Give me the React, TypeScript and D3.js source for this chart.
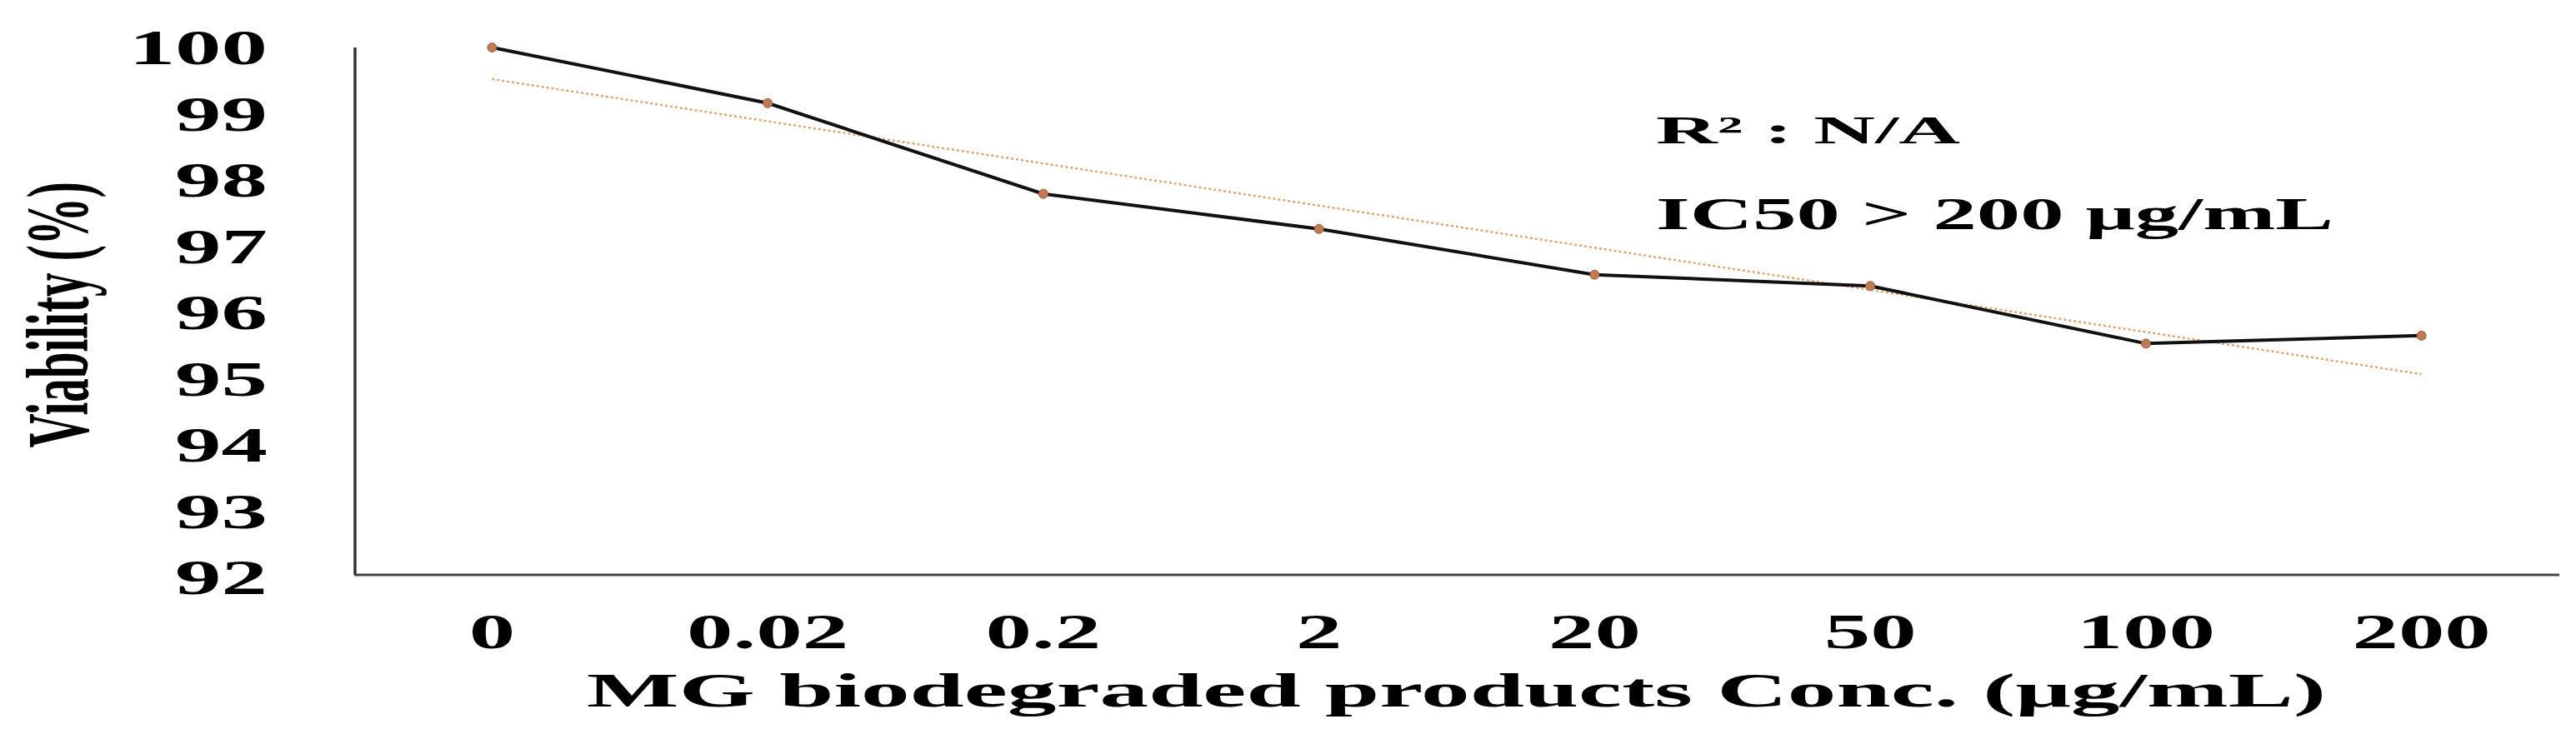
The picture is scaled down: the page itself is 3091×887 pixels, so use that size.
import React from 'react';
import * as d3 from 'd3';

// concentrations (µg/mL) and measured viability (%)
const categories = ['0', '0.02', '0.2', '2', '20', '50', '100', '200'];
const viability = [100, 99.16, 97.79, 97.26, 96.57, 96.4, 95.53, 95.65];
const yTicks = [92, 93, 94, 95, 96, 97, 98, 99, 100];

const W = 3091;
const H = 887;
const FONT = '"Liberation Serif", "Times New Roman", serif';
const STRETCH = 1.88; // the original figure is stretched sideways

const App = () => {
  const x = d3.scalePoint<string>()
    .domain(categories)
    .range([425, 3071])
    .padding(0.5);

  const y = d3.scaleLinear()
    .domain([92, 100])
    .range([693, 57]);

  const points = categories.map((c, i) => ({ c, i, v: viability[i] }));

  const line = d3.line<{ c: string; v: number }>()
    .x(d => x(d.c) ?? 0)
    .y(d => y(d.v));

  // linear trend (least squares over category index)
  const n = viability.length;
  const mx = d3.mean(points, d => d.i) ?? 0;
  const my = d3.mean(viability) ?? 0;
  const sxy = d3.sum(points, d => (d.i - mx) * (d.v - my));
  const sxx = d3.sum(points, d => (d.i - mx) ** 2);
  const slope = sxy / sxx;
  const intercept = my - slope * mx;
  const trend = [0, n - 1].map(i => ({ c: categories[i], v: intercept + slope * i }));

  return (
    <svg
      width={W}
      height={H}
      viewBox={`0 0 ${W} ${H}`}
      style={{ position: 'absolute', left: 0, top: 0, background: '#fff' }}
      fontFamily={FONT}
      fontWeight="bold"
    >
      {/* axes */}
      <line x1={426} x2={426} y1={57} y2={690} stroke="#333" strokeWidth={3.5} />
      <line x1={425} x2={3071} y1={690} y2={690} stroke="#444" strokeWidth={3} />

      {/* y tick labels */}
      {yTicks.map(t => (
        <text
          key={t}
          transform={`translate(321, ${y(t) + 20}) scale(${STRETCH}, 1)`}
          textAnchor="end"
          fontSize={59}
        >
          {t}
        </text>
      ))}

      {/* y axis title */}
      <text
        transform={`translate(105, 378) scale(1.85, 1) rotate(-90)`}
        textAnchor="middle"
        fontSize={57}
      >
        Viability (%)
      </text>

      {/* x tick labels */}
      {categories.map(c => (
        <text
          key={c}
          transform={`translate(${x(c)}, 778) scale(${STRETCH}, 1)`}
          textAnchor="middle"
          fontSize={59}
        >
          {c}
        </text>
      ))}

      {/* x axis title */}
      <text x={704} y={848} fontSize={58} textLength={2087} lengthAdjust="spacingAndGlyphs">
        MG biodegraded products Conc. (μg/mL)
      </text>

      {/* trend line */}
      <path
        d={line(trend) ?? ''}
        fill="none"
        stroke="#d9a877"
        strokeWidth={2.5}
        strokeDasharray="3,3"
      />

      {/* data line */}
      <path d={line(points) ?? ''} fill="none" stroke="#111" strokeWidth={4} />
      {points.map(d => (
        <circle
          key={d.c}
          cx={x(d.c)}
          cy={y(d.v)}
          r={5.5}
          fill="#c07a55"
          stroke="#a0603f"
          strokeWidth={1}
        />
      ))}

      {/* annotations */}
      <text x={1987} y={172} fontSize={46} textLength={365} lengthAdjust="spacingAndGlyphs">
        R² : N/A
      </text>
      <text x={1987} y={275} fontSize={54} textLength={813} lengthAdjust="spacingAndGlyphs">
        IC50 &gt; 200 μg/mL
      </text>
    </svg>
  );
};

export default App;
